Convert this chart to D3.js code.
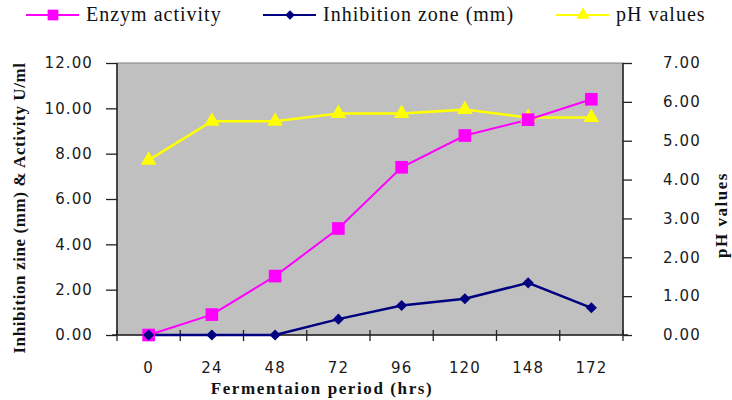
<!DOCTYPE html>
<html>
<head>
<meta charset="utf-8">
<script src="https://cdn.jsdelivr.net/npm/d3@7"></script>
<style>
  body { margin: 0; background: #fff; }
  svg { display: block; }
</style>
</head>
<body>
<div id="chart"></div>
<script>
// data
let periods = ["0", "24", "48", "72", "96", "120", "148", "172"];
let enzymActivity = [0, 0.9, 2.6, 4.7, 7.4, 8.8, 9.5, 10.4];
let inhibitionZone = [0, 0, 0, 0.7, 1.3, 1.6, 2.3, 1.2];
let phValues = [4.5, 5.5, 5.5, 5.7, 5.7, 5.8, 5.6, 5.6];
let leftTicks = [0, 2, 4, 6, 8, 10, 12];
let rightTicks = [0, 1, 2, 3, 4, 5, 6, 7];

let width = 732, height = 400;
let pLeft = 117, pRight = 623, pTop = 63, pBottom = 335;

let svg = d3.select("#chart")
  .append("svg")
  .attr("width", width)
  .attr("height", height);

let x = d3.scaleBand().domain(periods).range([pLeft, pRight]);
let yL = d3.scaleLinear().domain([0, 12]).range([pBottom, pTop]);
let yR = d3.scaleLinear().domain([0, 7]).range([pBottom, pTop]);
let cx = function(d, i) { return x(periods[i]) + x.bandwidth() / 2; };

// plot area
svg.append("rect")
  .attr("x", pLeft).attr("y", pTop)
  .attr("width", pRight - pLeft).attr("height", pBottom - pTop)
  .attr("fill", "#c0c0c0")
  .attr("stroke", "#808080")
  .attr("stroke-width", 1);

let tickFont = "DejaVu Sans, Verdana, sans-serif";

// left axis
let gL = svg.append("g")
  .attr("transform", "translate(" + pLeft + ",0)")
  .call(d3.axisLeft(yL).tickValues(leftTicks).tickSize(11).tickPadding(13)
    .tickFormat(d3.format(".2f")));
// right axis
let gR = svg.append("g")
  .attr("transform", "translate(" + pRight + ",0)")
  .call(d3.axisRight(yR).tickValues(rightTicks).tickSize(9).tickPadding(31)
    .tickFormat(d3.format(".2f")));
// x axis, ticks between categories
let gX = svg.append("g")
  .attr("transform", "translate(0," + pBottom + ")")
  .call(d3.axisBottom(x).tickSize(0).tickPadding(27));

[gL, gR, gX].forEach(function(g) {
  g.select(".domain").attr("stroke", "#222").attr("stroke-width", 1.5);
  g.selectAll("line").attr("stroke", "#222").attr("stroke-width", 1.3);
  g.selectAll("text")
    .attr("font-family", tickFont)
    .attr("font-size", "15px")
    .attr("letter-spacing", "1.1px")
    .attr("fill", "#1a1a1a");
});
gL.select(".domain").attr("d", "M0," + pTop + "V" + pBottom);
gR.select(".domain").attr("d", "M0," + pTop + "V" + pBottom);
gX.select(".domain").attr("d", "M" + (pLeft - 5) + ",0H" + (pRight + 5));

let bounds = periods.map(function(p) { return x(p); }).concat([pRight]);
gX.selectAll("line.sep")
  .data(bounds)
  .enter()
  .append("line")
  .attr("class", "sep")
  .attr("x1", function(d) { return d; })
  .attr("x2", function(d) { return d; })
  .attr("y1", -5)
  .attr("y2", 6)
  .attr("stroke", "#222")
  .attr("stroke-width", 1.3);

// lines
function drawLine(values, scale, color, w) {
  svg.append("path")
    .datum(values)
    .attr("fill", "none")
    .attr("stroke", color)
    .attr("stroke-width", w)
    .attr("d", d3.line().x(cx).y(function(d) { return scale(d); }));
}

drawLine(phValues, yR, "#ffff00", 2.5);
drawLine(enzymActivity, yL, "#ff00ff", 2);
drawLine(inhibitionZone, yL, "#000080", 2.5);

let square = d3.symbol().type(d3.symbolSquare).size(160);
let diamond = d3.symbol().type(d3.symbolSquare).size(62);
let triangle = d3.symbol().type(d3.symbolTriangle).size(105);

svg.selectAll("path.ph")
  .data(phValues)
  .enter()
  .append("path")
  .attr("class", "ph")
  .attr("d", triangle)
  .attr("fill", "#ffff00")
  .attr("transform", function(d, i) { return "translate(" + cx(d, i) + "," + yR(d) + ")"; });

svg.selectAll("path.enz")
  .data(enzymActivity)
  .enter()
  .append("path")
  .attr("class", "enz")
  .attr("d", square)
  .attr("fill", "#ff00ff")
  .attr("transform", function(d, i) { return "translate(" + cx(d, i) + "," + yL(d) + ")"; });

svg.selectAll("path.inh")
  .data(inhibitionZone)
  .enter()
  .append("path")
  .attr("class", "inh")
  .attr("d", diamond)
  .attr("fill", "#000080")
  .attr("transform", function(d, i) { return "translate(" + cx(d, i) + "," + yL(d) + ") rotate(45)"; });

// axis titles
let serif = "Liberation Serif, Times New Roman, serif";
svg.append("text")
  .attr("x", 322).attr("y", 394)
  .attr("text-anchor", "middle")
  .attr("font-family", serif).attr("font-weight", "bold").attr("font-size", "17px")
  .attr("letter-spacing", "1.6px")
  .attr("fill", "#111")
  .text("Fermentaion period (hrs)");

svg.append("text")
  .attr("transform", "translate(25,208) rotate(-90)")
  .attr("text-anchor", "middle")
  .attr("font-family", serif).attr("font-weight", "bold").attr("font-size", "17px")
  .attr("letter-spacing", "0.6px")
  .attr("fill", "#111")
  .text("Inhibition zine (mm) & Activity U/ml");

svg.append("text")
  .attr("transform", "translate(727,215) rotate(-90)")
  .attr("text-anchor", "middle")
  .attr("font-family", serif).attr("font-weight", "bold").attr("font-size", "17px")
  .attr("letter-spacing", "1.5px")
  .attr("fill", "#111")
  .text("pH values");

// legend
let legend = [
  { name: "Enzym activity", color: "#ff00ff", sym: square, rot: 0, x0: 26 },
  { name: "Inhibition zone (mm)", color: "#000080", sym: diamond, rot: 45, x0: 263 },
  { name: "pH values", color: "#ffff00", sym: triangle, rot: 0, x0: 556 }
];
let lg = svg.selectAll("g.leg")
  .data(legend)
  .enter()
  .append("g")
  .attr("class", "leg")
  .attr("transform", function(d) { return "translate(" + d.x0 + ",15)"; });
lg.append("line")
  .attr("x1", 0).attr("x2", 53).attr("y1", 0).attr("y2", 0)
  .attr("stroke", function(d) { return d.color; })
  .attr("stroke-width", 2);
lg.append("path")
  .attr("d", function(d) { return d.sym(); })
  .attr("fill", function(d) { return d.color; })
  .attr("transform", function(d) { return "translate(27,0) scale(0.85) rotate(" + d.rot + ")"; });
lg.append("text")
  .attr("x", 60).attr("y", 6)
  .attr("font-family", serif).attr("font-size", "20px")
  .attr("letter-spacing", "1px")
  .attr("fill", "#111")
  .text(function(d) { return d.name; });
</script>
</body>
</html>
